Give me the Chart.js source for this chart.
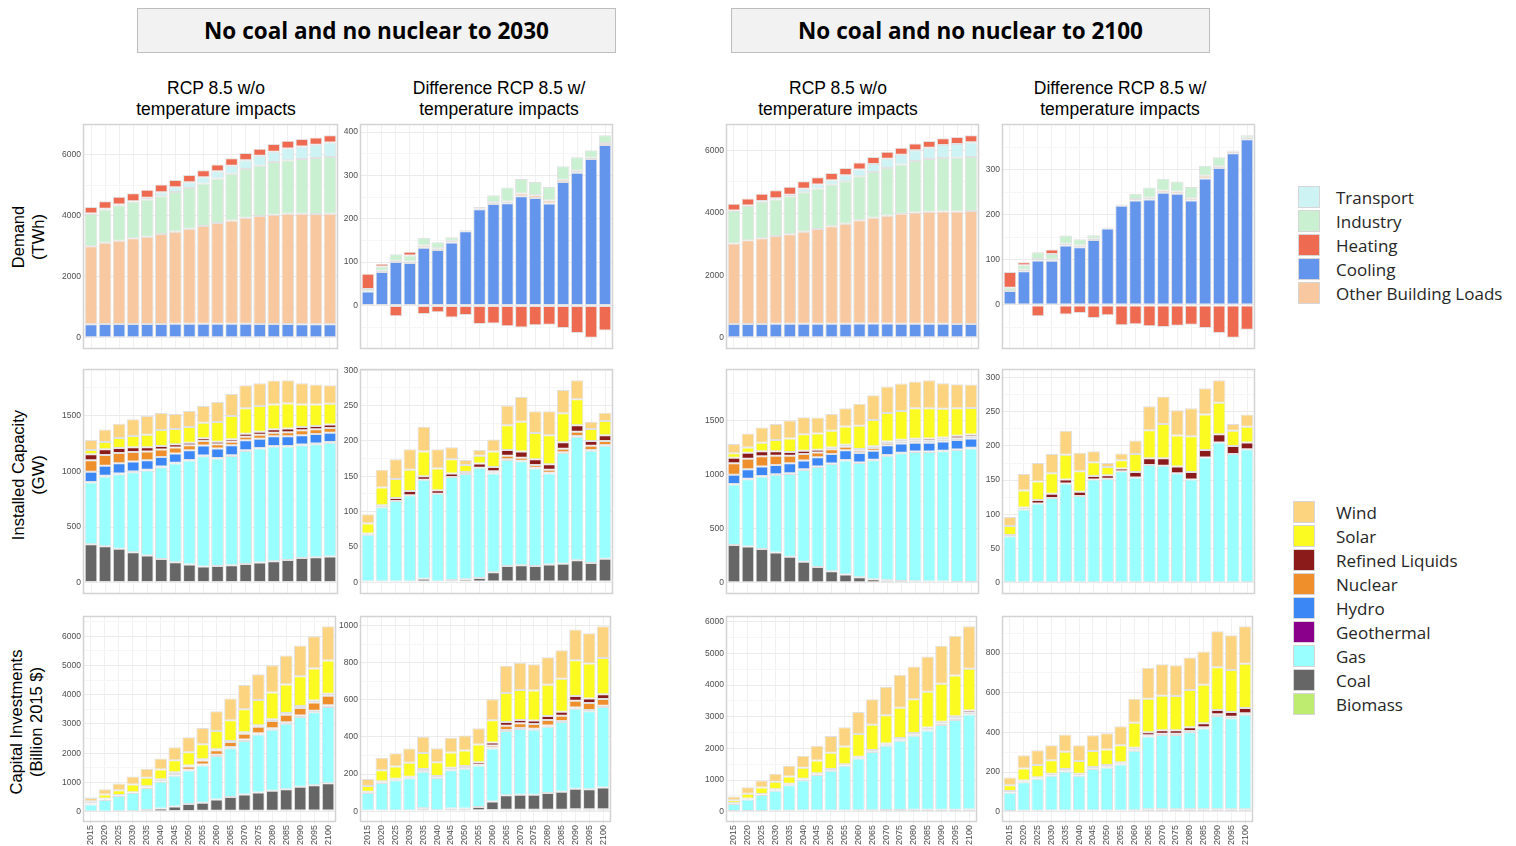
<!DOCTYPE html>
<html>
<head>
<meta charset="utf-8">
<script src="https://cdn.jsdelivr.net/npm/chart.js@4.4.1/dist/chart.umd.min.js"></script>
<style>
  body { margin: 0; background: #fff; width: 1516px; height: 846px; position: relative; overflow: hidden; font-family: 'Liberation Sans', Arial, sans-serif; color: #000; }
  .box { position: absolute; top: 8px; height: 43px; width: 477px; background: #f2f2f2; border: 1px solid #bdbdbd; font: 700 22.5px 'Open Sans', sans-serif; display: flex; align-items: center; justify-content: center; }
  .head { position: absolute; top: 78px; width: 300px; text-align: center; font-size: 17.5px; line-height: 21px; }
  .rowlab { position: absolute; width: 260px; height: 44px; text-align: center; font-size: 16.5px; line-height: 20px; transform: rotate(-90deg); }
  canvas { position: absolute; }
  .leg { position: absolute; font: 17px 'Open Sans', sans-serif; color: #262626; }
  .leg div { height: 24px; display: flex; align-items: center; }
  .leg span { display: inline-block; width: 22px; height: 22px; border: 1px solid #d6d6d6; box-sizing: border-box; }
  #legDemand span { margin-right: 16px; }
  #legCapacity span { margin-right: 21px; }
</style>
</head>
<body>
<div class="box" style="left:137px">No coal and no nuclear to 2030</div>
<div class="box" style="left:731px">No coal and no nuclear to 2100</div>
<div class="head" style="left:66px">RCP 8.5 w/o<br>temperature impacts</div>
<div class="head" style="left:349px">Difference RCP 8.5 w/<br>temperature impacts</div>
<div class="head" style="left:688px">RCP 8.5 w/o<br>temperature impacts</div>
<div class="head" style="left:970px">Difference RCP 8.5 w/<br>temperature impacts</div>
<div class="rowlab" style="left:-100px;top:215px">Demand<br>(TWh)</div>
<div class="rowlab" style="left:-100px;top:453px">Installed Capacity<br>(GW)</div>
<div class="rowlab" style="left:-102px;top:700px">Capital Investments<br>(Billion 2015 $)</div>
<div class="leg" id="legDemand" style="left:1298px;top:185px"></div>
<div class="leg" id="legCapacity" style="left:1293px;top:500px"></div>
<script>
const years = ['2015','2020','2025','2030','2035','2040','2045','2050','2055','2060','2065','2070','2075','2080','2085','2090','2095','2100'];

// Demand (TWh), scenario to 2030, without temperature impacts
const d30bCooling   = [450,455,455,455,455,455,460,460,460,460,460,460,458,455,452,450,448,445];
const d30bOther     = [2552,2666,2731,2808,2862,2949,3020,3118,3205,3303,3390,3477,3533,3580,3615,3617,3608,3622];
const d30bIndustry  = [1054,1088,1164,1196,1218,1240,1305,1337,1391,1457,1533,1598,1653,1729,1751,1795,1838,1860];
const d30bTransport = [22,21,22,21,54,130,152,185,208,239,261,283,326,337,392,413,435,478];
const d30bHeating   = [215,250,250,260,265,255,235,235,230,225,240,240,230,250,250,245,240,240];

// Demand difference (TWh), scenario to 2030
const d30dCooling   = [32,77,100,98,133,128,145,171,222,234,236,252,248,235,285,306,338,370];
const d30dOther     = [0,3,3,3,5,4,4,1,2,4,4,6,6,7,5,5,3,5];
const d30dIndustry  = [6,10,15,14,18,14,8,2,3,16,32,34,31,31,31,31,17,18];
const d30dHeating   = [35,6,-25,9,-20,-16,-28,-22,-43,-42,-48,-51,-46,-45,-52,-64,-75,-58];

// Demand (TWh), scenario to 2100, without temperature impacts
const d00bCooling   = [447,447,448,450,450,452,455,455,455,458,458,458,456,455,452,450,448,445];
const d00bOther     = [2574,2681,2743,2816,2869,2952,3034,3119,3205,3308,3393,3457,3523,3566,3591,3603,3605,3619];
const d00bIndustry  = [1043,1095,1171,1170,1224,1266,1298,1330,1361,1415,1468,1532,1574,1649,1691,1713,1724,1734];
const d00bTransport = [21,22,21,43,42,107,128,149,192,213,255,298,319,341,362,415,436,468];
const d00bHeating   = [215,225,240,250,255,245,235,235,235,230,225,220,222,215,215,215,222,232];

// Demand difference (TWh), scenario to 2100
const d00dCooling   = [31,75,99,98,132,128,144,170,220,232,234,249,247,232,281,304,337,368];
const d00dOther     = [0,3,3,3,4,4,3,1,2,3,4,5,5,5,6,4,3,3];
const d00dIndustry  = [7,10,15,12,18,14,8,1,1,12,23,26,22,25,22,20,3,6];
const d00dHeating   = [35,7,-25,10,-21,-18,-29,-23,-45,-43,-47,-49,-46,-44,-51,-62,-73,-55];

// Installed capacity (GW), scenario to 2030
const c30bBiomass = [8,8,8,8,8,8,8,8,8,8,8,8,8,8,8,8,8,8];
const c30bCoal    = [338,320,299,266,237,207,177,156,138,144,150,162,174,186,198,216,222,228];
const c30bGas     = [554,626,668,719,763,823,886,933,990,963,981,1014,1023,1029,1017,1011,1014,1022];
const c30bGeo     = [6,6,6,6,6,6,6,6,6,6,6,6,6,6,6,6,6,6];
const c30bHydro   = [90,90,93,89,86,86,83,87,90,84,90,89,83,86,86,83,86,84];
const c30bNuclear = [104,98,92,87,78,66,54,45,41,38,32,33,36,33,36,45,42,42];
const c30bLiquids = [54,51,45,42,39,33,29,23,24,24,21,27,27,30,33,30,30,30];
const c30bSolar   = [39,65,89,101,113,143,138,141,140,176,209,227,229,223,226,202,193,187];
const c30bWind    = [89,111,128,149,167,152,134,143,149,179,197,208,206,215,209,191,179,167];

// Installed capacity difference (GW), scenario to 2030
const c30dBiomass = [1,1,1,1,1,1,1,1,1,1,1,1,1,1,1,1,1,1];
const c30dCoal    = [0,0,0,0,4,-1,2,3,5,13,22,23,22,24,25,30,26,32];
const c30dGas     = [66,105,114,122,140,124,146,149,156,140,150,147,138,129,157,175,159,160];
const c30dGeo     = [0,0,0,0,0,0,0,0,0,1,1,1,1,1,1,1,1,1];
const c30dNuclear = [0,0,0,0,0,0,0,0,0,2,5,4,4,4,5,6,6,6];
const c30dLiquids = [2,3,4,6,5,5,5,3,6,6,8,9,8,8,9,9,7,8];
const c30dSolar   = [14,25,27,30,35,31,20,10,11,22,35,42,37,41,41,37,17,20];
const c30dWind    = [13,25,28,29,35,27,17,7,8,17,28,35,31,34,33,27,10,12];

// Installed capacity (GW), scenario to 2100
const c00bBiomass = [6,6,6,6,6,6,6,6,6,6,6,6,6,6,6,6,6,6];
const c00bCoal    = [344,331,307,276,236,190,141,101,71,46,28,19,12,9,6,6,3,3];
const c00bGas     = [561,623,671,718,767,850,926,994,1055,1058,1101,1153,1181,1196,1199,1206,1221,1236];
const c00bGeo     = [5,5,5,5,5,5,5,5,5,5,5,5,5,5,5,5,5,5];
const c00bHydro   = [84,87,88,87,93,81,84,87,90,87,84,90,87,81,81,87,87,87];
const c00bNuclear = [107,98,95,86,71,61,46,43,33,22,24,21,19,19,19,18,18,16];
const c00bLiquids = [52,55,46,40,33,31,25,18,19,15,16,16,15,18,21,18,22,21];
const c00bSolar   = [40,49,79,104,126,153,150,154,169,215,245,263,267,282,279,267,254,245];
const c00bWind    = [86,129,141,150,166,156,147,156,168,205,227,246,254,249,261,236,224,218];

// Installed capacity difference (GW), scenario to 2100
const c00dBiomass = [1,1,1,1,1,1,1,1,1,1,1,1,1,1,1,1,1,1];
const c00dGas     = [67,106,115,123,144,126,150,151,162,153,171,170,159,150,182,204,187,194];
const c00dLiquids = [2,3,5,6,6,6,5,5,4,8,10,11,10,11,11,12,12,10];
const c00dSolar   = [13,25,27,30,36,30,20,12,12,26,41,50,45,52,52,46,22,23];
const c00dWind    = [13,24,27,28,35,27,16,6,10,20,35,40,37,41,38,33,10,18];

// Capital investments (billion 2015 $), scenario to 2030
const i30bBiomass = [10,10,15,15,20,20,25,25,30,30,30,35,35,35,40,40,40,45];
const i30bCoal    = [0,0,0,0,37,94,157,236,277,390,470,556,624,681,732,812,869,932];
const i30bGas     = [240,388,519,621,750,908,1045,1148,1272,1488,1670,1829,1977,2090,2238,2386,2488,2601];
const i30bGeo     = [5,8,8,10,15,15,20,25,30,34,35,40,40,45,45,50,50,55];
const i30bHydro   = [10,8,5,4,3,3,5,5,5,5,5,5,5,5,5,5,5,5];
const i30bNuclear = [10,15,6,5,20,45,70,105,140,155,170,200,220,245,255,255,285,325];
const i30bLiquids = [15,25,15,15,30,28,30,35,41,34,40,50,53,57,59,64,69,70];
const i30bSolar   = [70,136,170,261,284,329,409,454,511,625,704,784,863,920,977,1022,1090,1136];
const i30bWind    = [110,182,227,273,307,375,443,511,557,670,750,829,886,932,988,1045,1102,1170];

// Capital investment difference (billion 2015 $), scenario to 2030
const i30dBiomass = [3,4,4,4,5,5,5,5,5,6,8,8,8,8,8,10,10,10];
const i30dCoal    = [0,0,0,0,11,-3,9,9,18,46,78,81,81,90,96,111,108,117];
const i30dGas     = [95,148,162,173,197,174,206,215,223,286,346,354,350,357,376,431,420,434];
const i30dGeo     = [2,3,3,3,4,3,4,4,4,4,5,5,5,6,6,7,7,7];
const i30dNuclear = [0,0,0,0,0,0,0,0,0,12,23,25,25,30,28,36,38,36];
const i30dLiquids = [5,6,6,6,10,7,10,10,14,16,20,18,20,22,22,25,24,26];
const i30dSolar   = [30,59,66,75,86,75,82,84,95,120,157,162,161,168,177,193,188,195];
const i30dWind    = [38,68,71,77,88,75,80,80,88,113,146,146,141,148,154,166,163,171];

// Capital investments (billion 2015 $), scenario to 2100
const i00bBiomass = [20,25,25,30,30,35,35,40,40,45,50,55,55,60,60,65,65,70];
const i00bGas     = [227,361,501,635,807,963,1124,1258,1409,1640,1838,2027,2188,2344,2504,2671,2832,2999];
const i00bGeo     = [12,12,12,15,15,15,20,20,20,20,25,30,35,35,40,45,50,55];
const i00bHydro   = [3,3,3,3,3,3,3,3,3,3,3,3,3,3,3,3,3,3];
const i00bLiquids = [17,17,17,25,25,25,30,31,30,30,37,42,47,47,54,59,65,71];
const i00bSolar   = [86,150,204,236,236,350,410,515,558,719,794,891,955,1062,1127,1202,1288,1320];
const i00bWind    = [118,204,225,258,333,380,460,526,612,697,805,901,1041,1041,1116,1202,1255,1341];

// Capital investment difference (billion 2015 $), scenario to 2100
const i00dBiomass = [4,5,5,6,6,6,6,6,6,8,12,12,12,12,12,12,12,12];
const i00dGas     = [92,144,161,175,197,175,209,217,232,299,367,375,375,389,407,471,459,477];
const i00dGeo     = [2,3,3,3,4,3,4,4,4,5,6,6,6,6,7,8,8,8];
const i00dLiquids = [6,6,5,7,8,7,7,8,8,11,16,18,18,19,20,22,24,26];
const i00dSolar   = [30,60,62,69,87,65,80,79,85,126,169,174,173,188,194,216,211,223];
const i00dWind    = [39,67,74,75,87,79,79,82,96,121,156,158,154,163,168,181,176,189];

const demandLegend   = ['Transport', 'Industry', 'Heating', 'Cooling', 'Other Building Loads'];
const capacityLegend = ['Wind', 'Solar', 'Refined Liquids', 'Nuclear', 'Hydro', 'Geothermal', 'Gas', 'Coal', 'Biomass'];

const colors = {
  'Transport': '#cef3f4', 'Industry': '#c9f0d0', 'Heating': '#ee6a50', 'Cooling': '#6495ed',
  'Other Building Loads': '#f8c9a0',
  'Wind': '#fcd37e', 'Solar': '#fbfb22', 'Refined Liquids': '#8b1a1a', 'Nuclear': '#ef8f2b',
  'Hydro': '#3b87f6', 'Geothermal': '#8b008b', 'Gas': '#99ffff', 'Coal': '#666666', 'Biomass': '#bdec70'
};

// legends
function buildLegend(el, names) {
  document.getElementById(el).innerHTML = names
    .map(n => `<div><span style="background:${colors[n]}"></span>${n}</div>`).join('');
}
buildLegend('legDemand', demandLegend);
buildLegend('legCapacity', capacityLegend);

// panel frames: column lefts / widths, row tops / heights
const colX = [84, 361, 727, 1003];
const colW = [253, 251, 251, 251];
const rowY = [125, 370, 617];
const rowH = [223, 223, 204];

const panels = [
  [0, 0, 2000, [['Cooling', d30bCooling], ['Other Building Loads', d30bOther], ['Industry', d30bIndustry], ['Transport', d30bTransport], ['Heating', d30bHeating]]],
  [0, 1, 100,  [['Cooling', d30dCooling], ['Other Building Loads', d30dOther], ['Industry', d30dIndustry], ['Heating', d30dHeating]]],
  [0, 2, 2000, [['Cooling', d00bCooling], ['Other Building Loads', d00bOther], ['Industry', d00bIndustry], ['Transport', d00bTransport], ['Heating', d00bHeating]]],
  [0, 3, 100,  [['Cooling', d00dCooling], ['Other Building Loads', d00dOther], ['Industry', d00dIndustry], ['Heating', d00dHeating]]],
  [1, 0, 500,  [['Biomass', c30bBiomass], ['Coal', c30bCoal], ['Gas', c30bGas], ['Geothermal', c30bGeo], ['Hydro', c30bHydro], ['Nuclear', c30bNuclear], ['Refined Liquids', c30bLiquids], ['Solar', c30bSolar], ['Wind', c30bWind]]],
  [1, 1, 50,   [['Biomass', c30dBiomass], ['Coal', c30dCoal], ['Gas', c30dGas], ['Geothermal', c30dGeo], ['Nuclear', c30dNuclear], ['Refined Liquids', c30dLiquids], ['Solar', c30dSolar], ['Wind', c30dWind]]],
  [1, 2, 500,  [['Biomass', c00bBiomass], ['Coal', c00bCoal], ['Gas', c00bGas], ['Geothermal', c00bGeo], ['Hydro', c00bHydro], ['Nuclear', c00bNuclear], ['Refined Liquids', c00bLiquids], ['Solar', c00bSolar], ['Wind', c00bWind]]],
  [1, 3, 50,   [['Biomass', c00dBiomass], ['Gas', c00dGas], ['Refined Liquids', c00dLiquids], ['Solar', c00dSolar], ['Wind', c00dWind]]],
  [2, 0, 1000, [['Biomass', i30bBiomass], ['Coal', i30bCoal], ['Gas', i30bGas], ['Geothermal', i30bGeo], ['Hydro', i30bHydro], ['Nuclear', i30bNuclear], ['Refined Liquids', i30bLiquids], ['Solar', i30bSolar], ['Wind', i30bWind]]],
  [2, 1, 200,  [['Biomass', i30dBiomass], ['Coal', i30dCoal], ['Gas', i30dGas], ['Geothermal', i30dGeo], ['Nuclear', i30dNuclear], ['Refined Liquids', i30dLiquids], ['Solar', i30dSolar], ['Wind', i30dWind]]],
  [2, 2, 1000, [['Biomass', i00bBiomass], ['Gas', i00bGas], ['Geothermal', i00bGeo], ['Hydro', i00bHydro], ['Refined Liquids', i00bLiquids], ['Solar', i00bSolar], ['Wind', i00bWind]]],
  [2, 3, 200,  [['Biomass', i00dBiomass], ['Gas', i00dGas], ['Geothermal', i00dGeo], ['Refined Liquids', i00dLiquids], ['Solar', i00dSolar], ['Wind', i00dWind]]]
];

// light grey box around each plotting area
const framePlugin = {
  id: 'frame',
  afterDraw(chart) {
    const a = chart.chartArea, g = chart.ctx;
    g.save();
    g.strokeStyle = '#d3d3d3';
    g.lineWidth = 1.5;
    g.strokeRect(Math.round(a.left) - 0.5, Math.round(a.top) - 0.5, Math.round(a.width) + 1, Math.round(a.height) + 1);
    g.restore();
  }
};

// stacked extent of the data, widened by 5% on both ends
function extent(series) {
  let hi = 0, lo = 0;
  years.forEach((_, i) => {
    let pos = 0, neg = 0;
    series.forEach(([, arr]) => { if (arr[i] > 0) pos += arr[i]; else neg += arr[i]; });
    hi = Math.max(hi, pos);
    lo = Math.min(lo, neg);
  });
  const pad = (hi - lo) * 0.05;
  return [lo - pad, hi + pad];
}

const PAD_T = 10, AXIS_W = 30;
panels.forEach(([row, col, step, series]) => {
  const bottomRow = row === 2;
  const xAxisH = bottomRow ? 24 : 0;
  const padB = bottomRow ? 0 : 10;
  const cv = document.createElement('canvas');
  const w = colW[col] + AXIS_W + 3;
  const h = rowH[row] + PAD_T + padB + xAxisH;
  cv.width = w; cv.height = h;
  cv.style.left = (colX[col] - AXIS_W) + 'px';
  cv.style.top = (rowY[row] - PAD_T) + 'px';
  cv.style.width = w + 'px'; cv.style.height = h + 'px';
  document.body.appendChild(cv);

  const [yMin, yMax] = extent(series);
  const half = step / 2;

  new Chart(cv, {
    type: 'bar',
    data: {
      labels: years,
      datasets: series.map(([name, arr]) => ({
        label: name,
        data: arr,
        backgroundColor: colors[name],
        borderColor: 'rgba(222,222,222,0.9)',
        borderWidth: 1,
        borderSkipped: false,
        barPercentage: 0.9,
        categoryPercentage: 1.0
      }))
    },
    options: {
      responsive: false,
      animation: false,
      events: [],
      layout: { padding: { top: PAD_T, right: 3, bottom: padB, left: 0 } },
      plugins: { legend: { display: false }, tooltip: { enabled: false } },
      scales: {
        x: {
          stacked: true,
          grid: { color: '#f1f1f1', offset: false, drawTicks: bottomRow, tickLength: 3 },
          border: { display: false },
          ticks: {
            display: bottomRow, autoSkip: false, maxRotation: 90, minRotation: 90,
            font: { family: 'Liberation Sans', size: 9 }, color: '#4d4d4d', padding: 1
          },
          afterFit: s => { s.height = xAxisH; }
        },
        y: {
          stacked: true,
          min: yMin,
          max: yMax,
          grid: {
            drawTicks: false,
            color: c => (c.tick && c.tick.value % step === 0) ? '#ebebeb' : '#f6f6f6'
          },
          border: { display: false },
          ticks: {
            font: { family: 'Liberation Sans', size: 8.5 }, color: '#4d4d4d', padding: 3,
            callback: v => (v % step === 0 ? v : '')
          },
          afterBuildTicks: s => {
            const t = [];
            for (let v = Math.ceil(yMin / half) * half; v <= yMax; v += half) t.push({ value: v });
            s.ticks = t;
          },
          afterFit: s => { s.width = AXIS_W; }
        }
      }
    },
    plugins: [framePlugin]
  });
});
</script>
</body>
</html>
